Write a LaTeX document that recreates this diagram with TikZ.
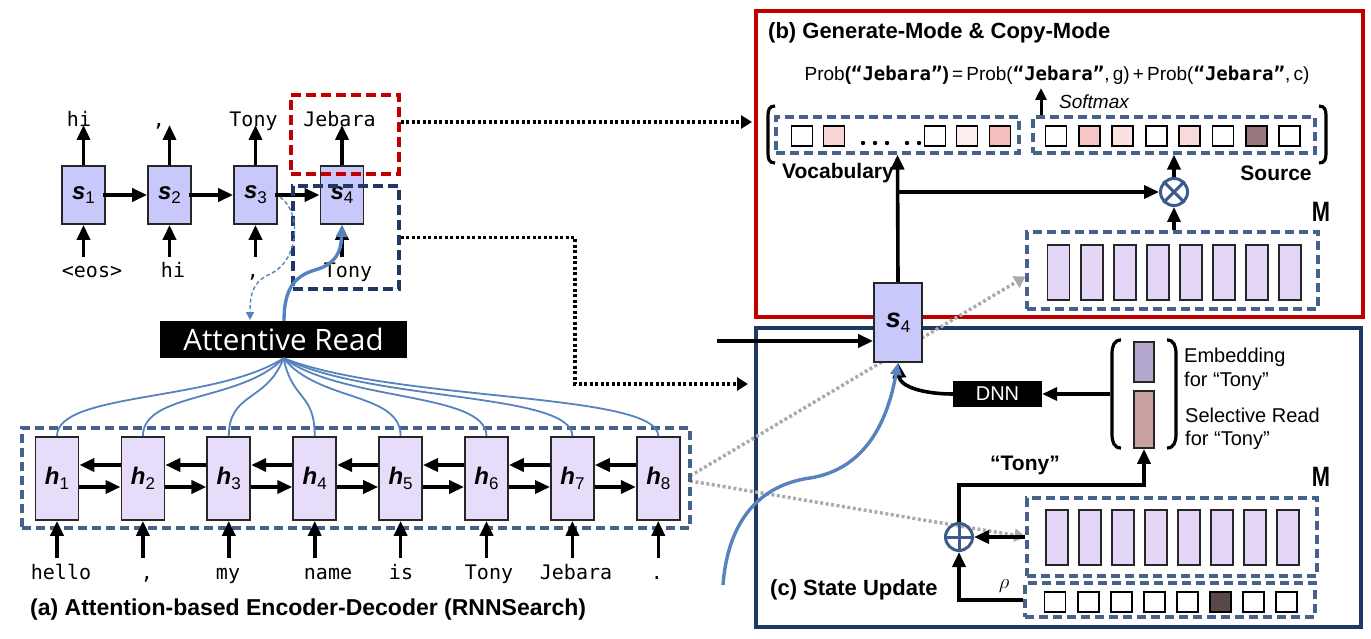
\documentclass[tikz,border=0pt]{standalone}
\usepackage{fontspec}
\setmainfont{Liberation Sans}
\newfontfamily\monof{DejaVu Sans Mono}
\newfontfamily\attf{Open Sans}
\usetikzlibrary{arrows.meta,calc}
\definecolor{sfill}{RGB}{200,200,250}
\definecolor{hfill}{RGB}{231,220,249}
\definecolor{mfill}{RGB}{228,214,246}
\definecolor{dashblue}{RGB}{68,98,138}
\definecolor{navyc}{RGB}{31,56,100}
\definecolor{redc}{RGB}{192,0,0}
\definecolor{attblue}{RGB}{86,130,190}
\definecolor{dotgray}{RGB}{170,170,170}
\definecolor{circblue}{RGB}{60,90,140}
\definecolor{pinkA}{RGB}{248,214,214}
\definecolor{pinkB}{RGB}{252,238,238}
\definecolor{pinkC}{RGB}{244,190,190}
\definecolor{pinkD}{RGB}{246,198,198}
\definecolor{pinkE}{RGB}{250,226,226}
\definecolor{pinkF}{RGB}{249,218,218}
\definecolor{mauve}{RGB}{150,120,125}
\definecolor{darkcell}{RGB}{90,72,72}
\definecolor{embc}{RGB}{180,167,205}
\definecolor{selc}{RGB}{200,160,160}
\newcommand\vlab[2]{{\bfseries\itshape #1}\raisebox{-0.2em}{\fontsize{17}{17}\selectfont #2}}
\begin{document}
\begin{tikzpicture}[x=1pt,y=-1pt,
  sbox/.style={draw=black!85,line width=1.8pt,fill=sfill,minimum width=43pt,minimum height=58pt,inner sep=0pt,font=\fontsize{24}{26}\selectfont},
  hbox/.style={draw=black!85,line width=1.8pt,fill=hfill,minimum width=43pt,minimum height=83pt,inner sep=0pt,font=\fontsize{24}{26}\selectfont},
  mrect/.style={draw=black!85,line width=1.8pt,fill=mfill,minimum width=22pt,minimum height=55pt,inner sep=0pt},
  cell/.style={draw=black,line width=1.8pt,minimum width=21pt,minimum height=20pt,inner sep=0pt},
  arr/.style={line width=3.6pt,-{Triangle[width=13pt,length=15pt]}},
  sarr/.style={line width=3pt,-{Triangle[width=11pt,length=12pt]}},
  mono/.style={font=\monof\fontsize{20}{24}\selectfont,inner sep=0pt,anchor=base},
  dbox/.style={draw=dashblue,line width=3.2pt,dash pattern=on 9pt off 5pt,inner sep=0pt},
  bdot/.style={line width=3.4pt,dash pattern=on 3pt off 2.5pt,-{Triangle[width=13pt,length=11pt]}},
  gdot/.style={draw=dotgray,line width=3.4pt,dash pattern=on 3pt off 2.5pt,-{Triangle[width=13pt,length=11pt,fill=dotgray]}},
  att/.style={draw=attblue,line width=1.8pt},
  btitle/.style={font=\bfseries\fontsize{22}{26}\selectfont,inner sep=0pt},
  rtext/.style={font=\fontsize{20}{22}\selectfont,inner sep=0pt,anchor=west},
  blackbox/.style={fill=black,text=white,inner sep=0pt},
  opcirc/.style={draw=circblue,line width=3pt,circle,minimum size=27pt,inner sep=0pt},
  bigM/.style={font=\bfseries\fontsize{28}{30}\selectfont,inner sep=0pt}
]
\useasboundingbox (0,0) rectangle (1371,639);
% frames
\draw[redc,line width=3.2pt] (756,11) rectangle (1363,317);
\draw[navyc,line width=3.2pt] (756,328) rectangle (1361,627);
% M boxes
\node[dbox,minimum width=291pt,minimum height=77pt] (Mb) at (1172.5,270.5) {};
\node[dbox,minimum width=290pt,minimum height=78pt] (Mc) at (1172,537) {};
\foreach \k in {0,...,7}{
  \node[mrect] (mb\k) at ({1058.5+33.1*\k},272.5) {};
  \node[mrect] (mc\k) at ({1057+33*\k},537.5) {};
}
% gray dotted
\coordinate (g1) at (690,476);
\coordinate (g2) at (690,481);
\draw[gdot] (g1) -- ($(Mb.west)+(0,6)$);
\draw[gdot] (g2) -- (Mc.west);

% decoder
\foreach \i/\x in {1/83.5,2/169.5,3/255.5,4/342}{
  \node[sbox] (s\i) at (\x,195) {\vlab{s}{\i}};
  \coordinate (so\i) at (\x,125);
  \coordinate (si\i) at (\x,257);
  \draw[arr] (s\i.north) -- (so\i);
  \draw[arr] (si\i) -- (s\i.south);
}
\foreach \i/\j in {1/2,2/3,3/4} \draw[arr] ([xshift=-3pt]s\i.east) -- (s\j.west);
\node[mono] (dl1) at (79,127) {hi};
\node[mono] (dl2) at (159,127) {,};
\node[mono] (dl3) at (253.5,127) {Tony};
\node[mono] (dl4) at (339.5,127) {Jebara};
\node[mono] (dn1) at (92,277) {<eos>};
\node[mono] (dn2) at (173,277) {hi};
\node[mono] (dn3) at (253,277) {,};
\node[mono] (dn4) at (348,277) {Tony};
\node[draw=redc,line width=3.2pt,dash pattern=on 10pt off 5pt,minimum width=108pt,minimum height=79pt,inner sep=0pt] (redsel) at (345,134.5) {};
\node[draw=navyc,line width=3.2pt,dash pattern=on 10pt off 5pt,minimum width=106pt,minimum height=103pt,inner sep=0pt] (navsel) at (346,237.5) {};
% black dotted connectors
\coordinate (bd1) at (752,122);
\coordinate (bdc1) at (575,237.5);
\coordinate (bdc2) at (575,384);
\coordinate (bd2) at (748,384);
\draw[bdot] ([yshift=12.5pt]redsel.east) -- (bd1);
\draw[bdot] (navsel.east) -- (bdc1) -- (bdc2) -- (bd2);

% Attentive read
\node[blackbox,minimum width=247pt,minimum height=37pt,font=\attf\fontsize{29.5}{30}\selectfont] (ar) at (283.5,339.5) {Attentive Read};
\coordinate (arIn) at (250,320);
\coordinate (s3out) at (280,197);
\draw[attblue,line width=1.4pt,dash pattern=on 4pt off 2.5pt,-{Triangle[width=8pt,length=8pt]}] (s3out) .. controls (302,212) and (300,262) .. (268,275) .. controls (252,283) and (250,296) .. (arIn);
\coordinate (arOut) at (284,321);
\draw[attblue,line width=3.4pt,-{Triangle[width=11pt,length=12pt]}] (arOut) .. controls (284,288) and (295,276) .. (315,270) .. controls (336,264) and (341,252) .. (s4.south);

% encoder
\node[dbox,minimum width=668pt,minimum height=100pt] (enc) at (356,478) {};
\foreach \i in {1,...,8}{
  \pgfmathsetmacro\xx{57+85.9*(\i-1)}
  \pgfmathsetmacro\cx{283.5+0.3*(\xx-283.5)}
  \node[hbox] (h\i) at (\xx,478.5) {\vlab{h}{\i}};
  \coordinate (hi\i) at (\xx,558);
  \draw[arr] (hi\i) -- (h\i.south);
  \draw[att] (ar.south) .. controls (\cx,402) and (\xx,392) .. (h\i.north);
}
\foreach \i/\j in {1/2,2/3,3/4,4/5,5/6,6/7,7/8}{
  \draw[arr] ([yshift=13.5pt]h\j.west) -- ([yshift=13.5pt]h\i.east);
  \draw[arr] ([yshift=-8.5pt]h\i.east) -- ([yshift=-8.5pt]h\j.west);
}
\foreach \w/\x [count=\n] in {hello/61,{,}/147,my/228,name/328,is/401,Tony/489,Jebara/576,./657}
  \node[mono] (w\n) at (\x,579) {\w};
\node[btitle,anchor=west,font=\bfseries\fontsize{23}{26}\selectfont] (capa) at (30,610) {(a) Attention-based Encoder-Decoder (RNNSearch)};

% (b) generate/copy
\node[btitle,anchor=west] (capb) at (768,33) {(b) Generate-Mode \& Copy-Mode};
\node[font=\fontsize{19}{22}\selectfont,inner sep=0pt] (prob) at (1057,75) {Prob{\bfseries(}{\monof\bfseries“Jebara”}{\bfseries)}\,=\,Prob({\monof\bfseries“Jebara”},\,g)\,+\,Prob({\monof\bfseries“Jebara”},\,c)};
\node[dbox,minimum width=243pt,minimum height=36pt] (voc) at (897.5,135) {};
\node[dbox,minimum width=282pt,minimum height=36pt] (srcbox) at (1174,135) {};
\foreach \x/\c [count=\n] in {802/white,834/pinkA,935/white,967/pinkB,1000/pinkC}
  \node[cell,fill=\c] (v\n) at (\x,136) {};
\foreach \x [count=\n] in {863,875,887,907,919}
  \fill (\x,143) circle (2.2pt);
\foreach \k/\c in {0/white,1/pinkD,2/pinkE,3/white,4/pinkF,5/white,6/mauve,7/white}
  \node[cell,fill=\c] (src\k) at ({1056+33.4*\k},136) {};
\draw[line width=3.2pt] (775,106) .. controls (769,106) and (768,110) .. (768,116) -- (768,153) .. controls (768,159) and (769,163) .. (775,163);
\draw[line width=3.2pt] (1319,106) .. controls (1325,106) and (1326,110) .. (1326,116) -- (1326,153) .. controls (1326,159) and (1325,163) .. (1319,163);
\coordinate (smt) at (1041,88);
\draw[sarr] (srcbox.north -| smt) -- (smt);
\node[font=\itshape\fontsize{19}{22}\selectfont,inner sep=0pt] (smx) at (1094,102) {Softmax};
\node[btitle,font=\bfseries\fontsize{21}{24}\selectfont] (vocl) at (838,173) {Vocabulary};
\node[btitle,font=\bfseries\fontsize{21}{24}\selectfont] (srcl) at (1276,173) {Source};
\node[bigM] (M1) at (1321,212) {\scalebox{0.78}[1]{M}};
\node[opcirc] (otimes) at (1174,192) {};
\draw[circblue,line width=3pt] (otimes.north west) -- (otimes.south east) (otimes.north east) -- (otimes.south west);

% (c) state update
\node[bigM] (M2) at (1321,477) {\scalebox{0.78}[1]{M}};
\node[dbox,minimum width=290pt,minimum height=34pt] (rho) at (1170,600) {};
\foreach \k/\c in {0/white,1/white,2/white,3/white,4/white,5/darkcell,6/white,7/white}
  \node[cell,fill=\c] (r\k) at ({1055+33.1*\k},602) {};
\node[opcirc] (oplus) at (959,537) {};
\draw[circblue,line width=3pt] (oplus.north) -- (oplus.south) (oplus.west) -- (oplus.east);
\draw[arr] (Mc.west) -- (oplus.east);
\draw[arr] (rho.west) -- (rho.west -| oplus.south) -- (oplus.south);
\node[font=\fontsize{22}{24}\selectfont,inner sep=0pt] (rhol) at (1004,586) {$\rho$};
\node[font=\bfseries\fontsize{21}{24}\selectfont,inner sep=0pt] (tonyl) at (1025,465) {“Tony”};
\node[draw=black!85,line width=1.8pt,fill=embc,minimum width=20pt,minimum height=40pt,inner sep=0pt] (emb) at (1144,362) {};
\node[draw=black!85,line width=1.8pt,fill=selc,minimum width=20pt,minimum height=57pt,inner sep=0pt] (sel) at (1144,419.5) {};
\coordinate (tk) at (1144,485);
\draw[arr] (oplus.north) -- (oplus.north |- tk) -- (tk) -- (sel.south);
\draw[line width=3.2pt] (1121,340) .. controls (1114,340) and (1112,346) .. (1112,354) -- (1112,434) .. controls (1112,442) and (1114,448) .. (1121,448);
\draw[line width=3.2pt] (1167,340) .. controls (1174,340) and (1176,346) .. (1176,354) -- (1176,434) .. controls (1176,442) and (1174,448) .. (1167,448);
\node[rtext] (t1) at (1184,357) {Embedding};
\node[rtext] (t2) at (1184,381) {for “Tony”};
\node[rtext] (t3) at (1185,415) {Selective Read};
\node[rtext] (t4) at (1185,440) {for “Tony”};
\node[blackbox,minimum width=89pt,minimum height=26pt,font=\fontsize{20}{22}\selectfont] (dnn) at (997.5,394) {DNN};
\coordinate (brl) at (1110,394);
\draw[arr] (brl) -- (dnn.east);
\node[btitle,anchor=west] (capc) at (770,590) {(c) State Update};

% s4 big
\node[sbox,minimum width=48pt,minimum height=79pt,font=\fontsize{27}{28}\selectfont] (S4) at (898,322.5) {\vlab{s}{4}};
\draw[arr] (S4.north) -- (voc.south);
\draw[arr] (S4.north |- otimes.west) -- (otimes.west);
\draw[arr] (otimes.north) -- (srcbox.south -| otimes.north);
\draw[arr] (Mb.north -| otimes.south) -- (otimes.south);
\coordinate (inS4) at (717,341);
\draw[arr] (inS4) -- (S4.west |- inS4);
\draw[arr] (dnn.west) .. controls (922,394) and (900,386) .. (S4.south);
\coordinate (cstart) at (723,585);
\draw[attblue,line width=3.4pt,-{Triangle[width=11pt,length=12pt]}] (cstart) .. controls (728,520) and (760,485) .. (810,478) .. controls (860,470) and (886,430) .. (S4.south);
\end{tikzpicture}
\end{document}
